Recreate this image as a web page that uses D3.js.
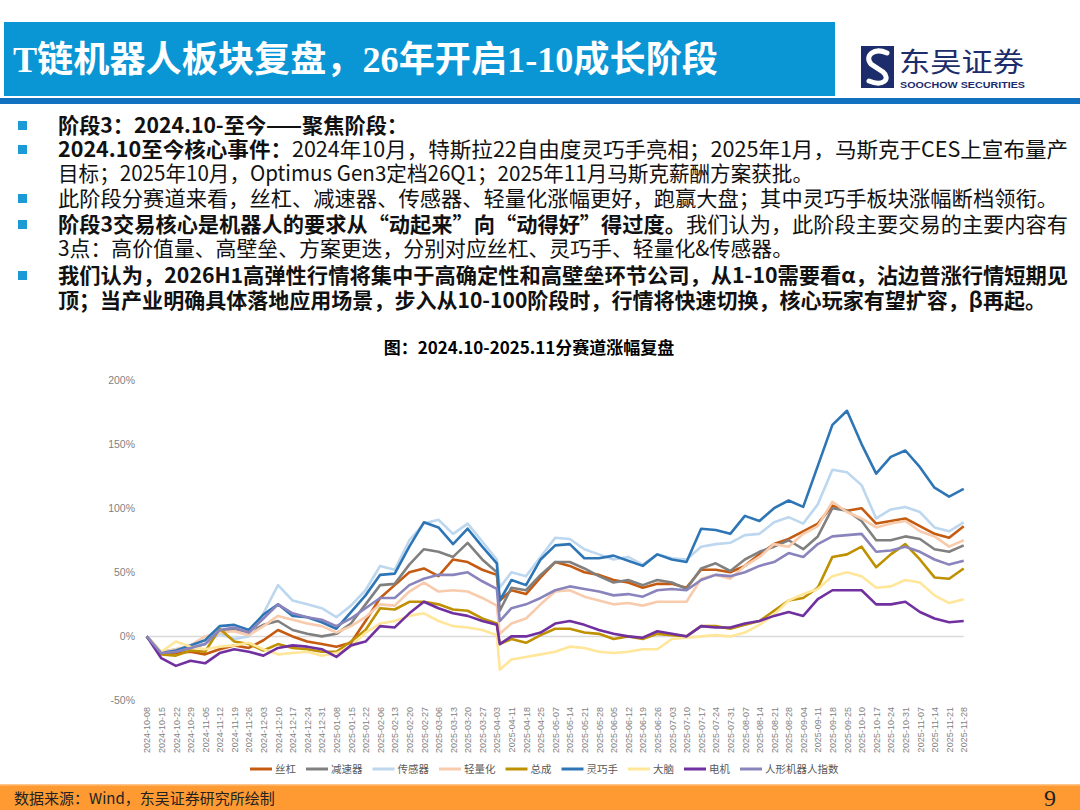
<!DOCTYPE html>
<html>
<head>
<meta charset="utf-8">
<script src="https://cdn.jsdelivr.net/npm/d3@7/dist/d3.min.js"></script>
<style>
    body { margin: 0; background: #fff; }
    svg { display: block; }
</style>
</head>
<body>
<script>
//tick labels on the x axis, one every 5 trading days
var tickLabels = ["2024-10-08","2024-10-15","2024-10-22","2024-10-29","2024-11-05","2024-11-12","2024-11-19","2024-11-26",
    "2024-12-03","2024-12-10","2024-12-17","2024-12-24","2024-12-31","2025-01-08","2025-01-15","2025-01-22",
    "2025-02-06","2025-02-13","2025-02-20","2025-02-27","2025-03-06","2025-03-13","2025-03-20","2025-03-27",
    "2025-04-03","2025-04-11","2025-04-18","2025-04-25","2025-05-07","2025-05-14","2025-05-21","2025-05-28",
    "2025-06-05","2025-06-12","2025-06-19","2025-06-26","2025-07-03","2025-07-10","2025-07-17","2025-07-24",
    "2025-07-31","2025-08-07","2025-08-14","2025-08-21","2025-08-28","2025-09-04","2025-09-11","2025-09-18",
    "2025-09-25","2025-10-10","2025-10-17","2025-10-24","2025-10-31","2025-11-07","2025-11-14","2025-11-21",
    "2025-11-28"];

//sampled trading days (days since 2024-10-08), 121 = 2025-04-07
var tradingDays = [0,5,10,15,20,25,30,35,40,45,50,55,60,65,70,75,80,85,90,95,100,105,110,115,120,121,
    125,130,135,140,145,150,155,160,165,170,175,180,185,190,195,200,205,210,215,220,225,230,235,240,
    245,250,255,260,265,270,275,280];

var yTicks = [-50, 0, 50, 100, 150, 200];

//cumulative change, %
var siGang = [0,-13,-13,-12,-14,-10,-7,-9,-3,5,0,-4,-6,-8,-5,12,30,
    40,50,53,47,60,58,52,48,28,36,33,46,58,55,50,48,44,42,38,41,41,
    38,52,52,50,55,64,72,76,82,88,102,98,100,88,90,92,86,80,77,86];
var jianSuQi = [0,-13,-12,-9,-6,4,6,3,9,12,5,2,0,2,10,25,40,
    41,56,68,66,62,73,60,50,20,38,36,48,58,58,53,47,42,44,40,44,42,
    37,53,57,51,60,66,70,75,68,78,100,98,90,75,75,78,76,68,66,71];
var chuanGanQi = [0,-12,-10,-8,-6,2,-2,0,18,40,28,25,22,15,24,36,55,
    52,75,88,91,80,88,74,60,38,50,47,62,77,76,68,64,60,62,56,64,61,
    60,70,72,73,79,80,89,93,88,103,130,128,118,92,99,101,97,85,82,89];
var qingLiangHua = [0,-12,-10,-7,0,3,4,1,8,16,13,10,8,3,8,15,25,
    24,35,42,35,36,35,30,24,2,10,14,25,35,36,31,28,25,26,24,27,27,
    27,45,48,45,55,62,72,70,80,86,105,97,92,85,88,90,82,78,70,75];
var zongCheng = [0,-14,-15,-11,-12,6,-4,-6,-11,-6,-9,-10,-12,-12,-4,5,22,
    21,27,27,25,21,20,14,10,-6,-2,-5,1,6,6,3,2,-2,0,-2,2,1,
    0,8,8,6,9,12,20,28,30,38,62,64,70,54,64,72,60,46,45,53];
var lingQiaoShou = [0,-13,-11,-7,-3,8,9,5,17,25,16,15,11,6,19,32,48,
    49,70,89,85,72,84,70,57,28,44,40,60,71,72,61,61,63,59,55,64,60,
    58,84,83,80,94,90,100,106,101,133,165,176,150,127,140,145,132,116,109,115];
var daNao = [0,-12,-4,-8,-10,-8,-7,-5,-10,-14,-13,-12,-15,-13,-8,3,10,
    12,16,18,12,8,7,5,1,-26,-18,-16,-14,-12,-8,-9,-12,-13,-12,-10,-10,-2,
    -1,0,1,0,3,9,17,28,33,37,47,50,47,38,39,44,42,32,26,29];
var dianJi = [0,-17,-23,-19,-21,-13,-10,-12,-15,-9,-7,-8,-10,-16,-7,-4,8,
    7,18,27,22,18,16,12,9,-6,0,0,3,10,12,9,5,2,0,-1,4,2,
    0,8,7,7,10,12,16,19,16,29,36,36,36,25,25,27,19,14,11,12];
var renXing = [0,-13,-12,-9,-6,5,7,3,14,25,18,15,13,8,14,22,30,
    30,40,45,48,48,50,43,37,12,22,25,30,36,39,37,35,32,33,31,36,37,
    36,44,48,47,50,55,58,65,62,72,78,79,80,66,67,70,66,60,56,59];

var seriesNames = ["丝杠","减速器","传感器","轻量化","总成","灵巧手","大脑","电机","人形机器人指数"];
var seriesValues = [siGang, jianSuQi, chuanGanQi, qingLiangHua, zongCheng, lingQiaoShou, daNao, dianJi, renXing];
var seriesColors = ["#C55A11","#808080","#BDD7EE","#F8CBAD","#BF9000","#2E75B6","#FFE699","#7030A0","#8A84BC"];

window.onload = drawPage();

function drawPage(){
    var width = 1080,
        height = 810;
    var cjk = "'Noto Sans CJK SC', 'Noto Sans', sans-serif";

    var svg = d3.select("body")
        .append("svg")
        .attr("width", width)
        .attr("height", height);

    //header bar
    svg.append("rect")
        .attr("x", 4).attr("y", 22)
        .attr("width", 831).attr("height", 74)
        .attr("fill", "#0A95D5");
    svg.append("text")
        .attr("x", 13).attr("y", 72)
        .attr("fill", "#fff")
        .attr("font-family", "'Liberation Serif', 'Noto Sans CJK SC', serif")
        .attr("font-weight", "bold")
        .attr("font-size", 36)
        .attr("textLength", 705)
        .attr("lengthAdjust", "spacingAndGlyphs")
        .text("T链机器人板块复盘，26年开启1-10成长阶段");
    svg.append("rect")
        .attr("x", 0).attr("y", 98)
        .attr("width", width).attr("height", 6)
        .attr("fill", "#1272C0");

    //logo
    var logo = svg.append("g").attr("class", "logo");
    logo.append("rect")
        .attr("x", 861).attr("y", 46)
        .attr("width", 33).attr("height", 42)
        .attr("fill", "#1D2C6B");
    logo.append("path")
        .attr("d", "M887,53 C874,47 864,56 871,64 L883,72 C891,79 883,87 869,81")
        .attr("fill", "none")
        .attr("stroke", "#fff")
        .attr("stroke-width", 5)
        .attr("stroke-linecap", "round");
    logo.append("text")
        .attr("x", 899).attr("y", 72)
        .attr("fill", "#1D2C6B")
        .attr("font-family", cjk)
        .attr("font-size", 27)
        .attr("textLength", 125)
        .attr("lengthAdjust", "spacingAndGlyphs")
        .text("东吴证券");
    logo.append("text")
        .attr("x", 900).attr("y", 88)
        .attr("fill", "#1D2C6B")
        .attr("font-family", "'Liberation Sans', sans-serif")
        .attr("font-weight", "bold")
        .attr("font-size", 8.5)
        .attr("textLength", 125)
        .attr("lengthAdjust", "spacingAndGlyphs")
        .text("SOOCHOW SECURITIES");

    //bullet text, each line: [bullet?, y, width, [[bold?, text], ...]]
    var lines = [
        [true, 133, 350, [[true, "阶段3：2024.10-至今——聚焦阶段："]]],
        [true, 157, 1010, [[true, "2024.10至今核心事件："], [false, "2024年10月，特斯拉22自由度灵巧手亮相；2025年1月，马斯克于CES上宣布量产"]]],
        [false, 181, 755, [[false, "目标；2025年10月，Optimus Gen3定档26Q1；2025年11月马斯克薪酬方案获批。"]]],
        [true, 206, 1000, [[false, "此阶段分赛道来看，丝杠、减速器、传感器、轻量化涨幅更好，跑赢大盘；其中灵巧手板块涨幅断档领衔。"]]],
        [true, 232, 1010, [[true, "阶段3交易核心是机器人的要求从“动起来”向“动得好”得过度。"], [false, "我们认为，此阶段主要交易的主要内容有"]]],
        [false, 256, 735, [[false, "3点：高价值量、高壁垒、方案更迭，分别对应丝杠、灵巧手、轻量化&传感器。"]]],
        [true, 283, 1010, [[true, "我们认为，2026H1高弹性行情将集中于高确定性和高壁垒环节公司，从1-10需要看α，沾边普涨行情短期见"]]],
        [false, 308, 988, [[true, "顶；当产业明确具体落地应用场景，步入从10-100阶段时，行情将快速切换，核心玩家有望扩容，β再起。"]]]
    ];
    lines.forEach(function(l){
        if (l[0]) {
            svg.append("rect")
                .attr("x", 18).attr("y", l[1] - 12)
                .attr("width", 9).attr("height", 9)
                .attr("fill", "#1B9AD6");
        }
        var t = svg.append("text")
            .attr("x", 58).attr("y", l[1])
            .attr("font-family", cjk)
            .attr("font-size", 21)
            .attr("fill", "#111")
            .attr("textLength", l[2])
            .attr("lengthAdjust", "spacingAndGlyphs");
        l[3].forEach(function(p){
            t.append("tspan")
                .attr("font-weight", p[0] ? "bold" : "normal")
                .text(p[1]);
        });
    });

    //chart title
    svg.append("text")
        .attr("x", 529).attr("y", 354)
        .attr("text-anchor", "middle")
        .attr("font-family", cjk)
        .attr("font-weight", "bold")
        .attr("font-size", 17)
        .attr("fill", "#000")
        .text("图：2024.10-2025.11分赛道涨幅复盘");

    //scales
    var x = d3.scaleLinear()
        .domain([0, 280])
        .range([146.7, 963.7]);
    var y = d3.scaleLinear()
        .domain([-50, 200])
        .range([700.5, 380]);

    //y axis
    var yAxis = svg.append("g")
        .attr("transform", "translate(138,0)")
        .call(d3.axisLeft(y).tickValues(yTicks).tickSize(0).tickPadding(3)
            .tickFormat(function(d){ return d + "%"; }));
    yAxis.select(".domain").remove();
    yAxis.selectAll("text")
        .attr("font-family", "'Liberation Sans', sans-serif")
        .attr("font-size", 10.5)
        .attr("fill", "#7F7F7F");

    //x axis with rotated dates
    var xAxis = svg.append("g")
        .attr("transform", "translate(0,707)")
        .call(d3.axisBottom(x)
            .tickValues(tickLabels.map(function(d, i){ return i * 5; }))
            .tickSize(0)
            .tickFormat(function(d, i){ return tickLabels[i]; }));
    xAxis.select(".domain").remove();
    xAxis.selectAll("text")
        .attr("x", 0).attr("y", 0)
        .attr("dy", "0.35em")
        .attr("transform", "rotate(-90)")
        .attr("text-anchor", "end")
        .attr("font-family", "'Liberation Sans', sans-serif")
        .attr("font-size", 9)
        .attr("fill", "#7F7F7F");

    //zero line
    svg.append("line")
        .attr("x1", x(0)).attr("x2", x(280))
        .attr("y1", y(0)).attr("y2", y(0))
        .attr("stroke", "#D9D9D9")
        .attr("stroke-width", 1.5);

    //series lines
    var line = d3.line()
        .x(function(d, i){ return x(tradingDays[i]); })
        .y(function(d){ return y(d); });
    svg.selectAll(".series")
        .data(seriesValues)
        .enter()
        .append("path")
        .attr("class", "series")
        .attr("d", line)
        .attr("fill", "none")
        .attr("stroke", function(d, i){ return seriesColors[i]; })
        .attr("stroke-width", 2.6)
        .attr("stroke-linejoin", "round");

    //legend
    var lx = 250;
    seriesNames.forEach(function(name, i){
        svg.append("line")
            .attr("x1", lx).attr("x2", lx + 22)
            .attr("y1", 769).attr("y2", 769)
            .attr("stroke", seriesColors[i])
            .attr("stroke-width", 3);
        var t = svg.append("text")
            .attr("x", lx + 25).attr("y", 773)
            .attr("font-family", cjk)
            .attr("font-size", 10.5)
            .attr("fill", "#595959")
            .text(name);
        lx += 25 + t.node().getComputedTextLength() + 10;
    });

    //footer
    svg.append("rect")
        .attr("x", 0).attr("y", 785)
        .attr("width", width).attr("height", 25)
        .attr("fill", "#FF9A33");
    svg.append("rect")
        .attr("x", 0).attr("y", 784)
        .attr("width", width).attr("height", 1.5)
        .attr("fill", "#FFC58A");
    svg.append("text")
        .attr("x", 14).attr("y", 804)
        .attr("font-family", cjk)
        .attr("font-size", 15)
        .attr("fill", "#222")
        .text("数据来源：Wind，东吴证券研究所绘制");
    svg.append("text")
        .attr("x", 1050).attr("y", 806)
        .attr("text-anchor", "middle")
        .attr("font-family", "'Liberation Serif', serif")
        .attr("font-size", 24)
        .attr("fill", "#222")
        .text("9");
}
</script>
</body>
</html>
